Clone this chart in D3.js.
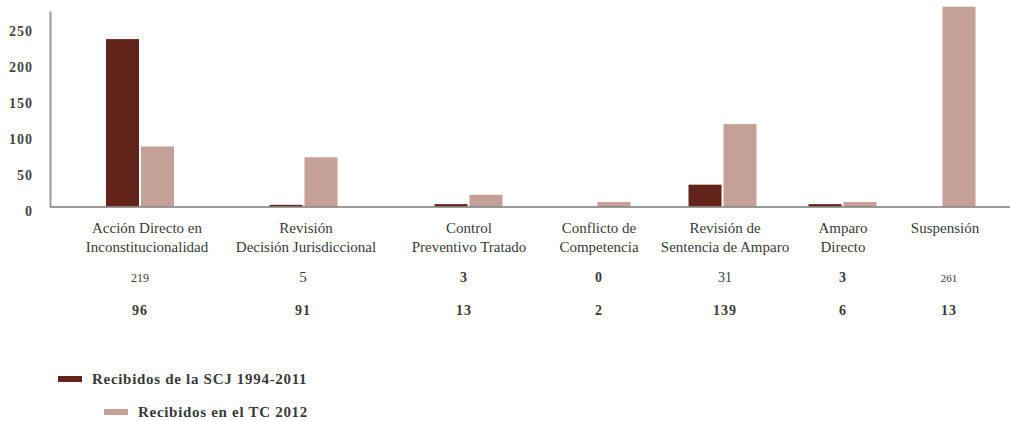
<!DOCTYPE html>
<html>
<head>
<meta charset="utf-8">
<script src="https://cdn.jsdelivr.net/npm/d3@7"></script>
<style>
  html, body { margin: 0; padding: 0; background: #fff; }
  svg { display: block; }
  text { font-family: "Liberation Serif", "DejaVu Serif", serif; }
</style>
</head>
<body>
<svg id="chart" width="1010" height="421"></svg>
<script>
// Categories (two-line labels) and the two series drawn as bars
const categories = [
  "Acción Directo en|Inconstitucionalidad",
  "Revisión|Decisión Jurisdiccional",
  "Control|Preventivo Tratado",
  "Conflicto de|Competencia",
  "Revisión de|Sentencia de Amparo",
  "Amparo|Directo",
  "Suspensión"
];
const seriesNames = ["Recibidos de la SCJ 1994-2011", "Recibidos en el TC 2012"];
const scjValues = [233, 3, 4, 0, 31, 4, 0];
const tcValues  = [84, 69, 17, 7, 115, 7, 278];

// Data table printed under the categories
const tableSCJ = ["219", "5", "3", "0", "31", "3", "261"];
const tableTC  = ["96", "91", "13", "2", "139", "6", "13"];
const yTicks = [0, 50, 100, 150, 200, 250];

// Layout
const colors = ["#62231a", "#c4a097"];
const barCenters   = [140, 303.5, 468.5, 596.5, 722.5, 842.5, 941.5];
const labelCenters = [147, 306, 469, 599, 725, 843, 945];
const valueCenters = [140, 303, 464, 599, 725, 843, 949];
const barW = 33, barGap = 2;
// style of each value in the first table row
const row1Style = [
  {size: 12, bold: false}, {size: 15, bold: false}, {size: 14, bold: true},
  {size: 14, bold: true}, {size: 14, bold: false}, {size: 14, bold: true},
  {size: 11, bold: false}
];

const svg = d3.select("#chart");
const axisX = 50, baseY = 207, topY = 11;

const y = d3.scaleLinear().domain([0, 272]).range([baseY, topY]);
const xBar = d3.scaleOrdinal().domain(categories).range(barCenters);
const xLabel = d3.scaleOrdinal().domain(categories).range(labelCenters);
const xValue = d3.scaleOrdinal().domain(categories).range(valueCenters);

// Bars
const series = [scjValues, tcValues];
series.forEach((vals, si) => {
  svg.append("g").selectAll("rect")
    .data(categories.map((c, i) => ({c, v: vals[i]})).filter(d => d.v > 0))
    .join("rect")
    .attr("x", d => si === 0 ? xBar(d.c) - barW - barGap / 2 : xBar(d.c) + barGap / 2)
    .attr("width", barW)
    .attr("y", d => y(d.v))
    .attr("height", d => y(0) - y(d.v))
    .attr("fill", colors[si]);
});

// Y axis
const yAxis = d3.axisLeft(y).tickValues(yTicks).tickSize(0).tickPadding(17);
const gy = svg.append("g").attr("transform", `translate(${axisX},0)`).call(yAxis);
gy.select(".domain").attr("stroke", "#999").attr("stroke-width", 2);
gy.selectAll(".tick text")
  .attr("dy", "0.32em")
  .attr("transform", "translate(0,4)")
  .attr("font-size", 14)
  .attr("font-weight", "bold")
  .attr("letter-spacing", 1)
  .attr("fill", "#444");

// Baseline
svg.append("line")
  .attr("x1", axisX).attr("x2", 1010)
  .attr("y1", y(0)).attr("y2", y(0))
  .attr("stroke", "#8a8a8a").attr("stroke-opacity", 0.85).attr("stroke-width", 2);

// Category labels
const lbl = svg.append("g").selectAll("text")
  .data(categories)
  .join("text")
  .attr("x", d => xLabel(d))
  .attr("y", 233)
  .attr("text-anchor", "middle")
  .attr("font-size", 15)
  .attr("fill", "#3a3a3a");
lbl.each(function(d) {
  const lines = d.split("|");
  d3.select(this).selectAll("tspan").data(lines).join("tspan")
    .attr("x", xLabel(d))
    .attr("dy", (l, i) => i === 0 ? 0 : 19)
    .text(l => l);
});

// Table rows
svg.append("g").selectAll("text")
  .data(categories)
  .join("text")
  .attr("x", d => xValue(d))
  .attr("y", 282)
  .attr("text-anchor", "middle")
  .attr("font-size", (d, i) => row1Style[i].size)
  .attr("font-weight", (d, i) => row1Style[i].bold ? "bold" : "normal")
  .attr("letter-spacing", (d, i) => row1Style[i].bold ? 1 : 0)
  .attr("fill", "#3a3a3a")
  .text((d, i) => tableSCJ[i]);

svg.append("g").selectAll("text")
  .data(categories)
  .join("text")
  .attr("x", d => xValue(d))
  .attr("y", 315)
  .attr("text-anchor", "middle")
  .attr("font-size", 14)
  .attr("font-weight", "bold")
  .attr("letter-spacing", 1)
  .attr("fill", "#3a3a3a")
  .text((d, i) => tableTC[i]);

// Legend
const legendPos = [{x: 58, y: 379}, {x: 104, y: 412}];
const leg = svg.append("g").selectAll("g")
  .data(seriesNames)
  .join("g")
  .attr("transform", (d, i) => `translate(${legendPos[i].x},${legendPos[i].y})`);
leg.append("rect")
  .attr("x", 0).attr("y", -3).attr("width", 24).attr("height", 6)
  .attr("fill", (d, i) => colors[i]);
leg.append("text")
  .attr("x", 34).attr("y", 5)
  .attr("font-size", 15)
  .attr("font-weight", "bold")
  .attr("letter-spacing", 0.7)
  .attr("fill", "#3a3a3a")
  .text(d => d);
</script>
</body>
</html>
